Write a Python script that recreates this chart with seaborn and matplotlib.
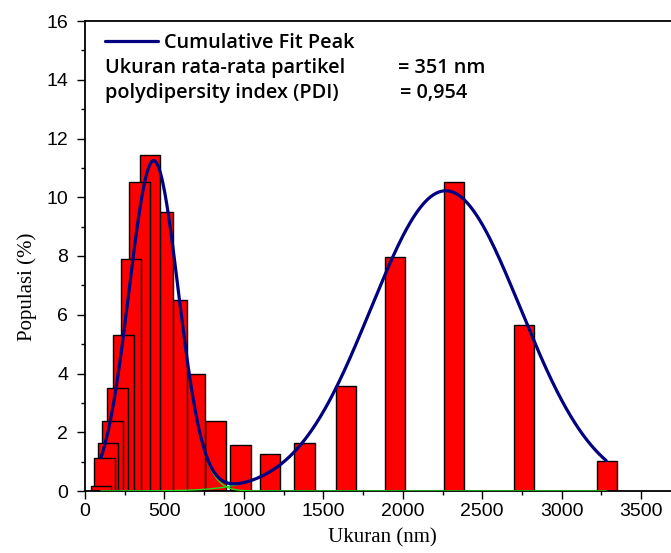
import numpy as np
import pandas as pd
import matplotlib
matplotlib.use("Agg")
import matplotlib.pyplot as plt
from matplotlib.ticker import MultipleLocator
from matplotlib.lines import Line2D
import seaborn as sns

# ---- data ----
size_nm = [100, 122, 145, 173, 205, 243, 290, 344, 410, 490, 580, 690,
           822, 978, 1163, 1382, 1642, 1951, 2324, 2762, 3286]
populasi = [0.17, 1.11, 1.62, 2.38, 3.51, 5.31, 7.90, 10.51, 11.45, 9.51, 6.49, 3.99,
            2.39, 1.55, 1.26, 1.65, 3.58, 7.98, 10.53, 5.66, 1.02]

# Gaussian fit peaks (center nm, sigma nm, height %)
peak_centers = [432, 2270]
peak_sigmas = [155, 472]
peak_heights = [11.24, 10.22]
fit_range = [100, 3280]

legend_label = "Cumulative Fit Peak"
info_labels = ["Ukuran rata-rata partikel", "polydipersity index (PDI)"]
info_values = ["= 351 nm", "= 0,954"]

sns.set_theme(style="ticks")
plt.rcParams['font.family'] = ['Liberation Sans', 'DejaVu Sans']
for k in ["text.color", "axes.labelcolor", "xtick.color", "ytick.color", "axes.edgecolor"]:
    plt.rcParams[k] = "black"

W, H = 671, 553
fig = plt.figure(figsize=(W / 100, H / 100), dpi=100)
ax_l, ax_r, ax_t, ax_b = 85, 671, 21, 491
ax = fig.add_axes([ax_l / W, 1 - ax_b / H, (ax_r - ax_l) / W, (ax_b - ax_t) / H])

# bars (drawn right-to-left so left bars sit on top)
for xv, yv in reversed(list(zip(size_nm, populasi))):
    ax.bar(xv, yv, width=128, color="#ff0000", edgecolor="black", linewidth=1.0, zorder=2)

# fit curves
xs = np.linspace(fit_range[0], fit_range[1], 800)
peaks = [h * np.exp(-(xs - c) ** 2 / (2 * s ** 2))
         for c, s, h in zip(peak_centers, peak_sigmas, peak_heights)]
for p in peaks:
    sns.lineplot(x=xs, y=p, ax=ax, color="#22dd22", linewidth=1.0, zorder=3)
cum = peaks[0] + peaks[1]
sns.lineplot(x=xs, y=cum, ax=ax, color="#000080", linewidth=2.3, zorder=4)

ax.set_xlim(0, 3688)
ax.set_ylim(0, 16)
ax.xaxis.set_major_locator(MultipleLocator(500))
ax.xaxis.set_minor_locator(MultipleLocator(250))
ax.yaxis.set_major_locator(MultipleLocator(2))
ax.yaxis.set_minor_locator(MultipleLocator(1))
ax.tick_params(axis="both", which="major", direction="out", length=6, width=1.0,
               labelsize=14, color="black", labelcolor="black")
ax.tick_params(axis="both", which="minor", direction="out", length=3, width=1.0, color="black")
ax.tick_params(axis="x", pad=3)
ax.tick_params(axis="y", pad=6)
for s in ["left", "bottom", "top"]:
    ax.spines[s].set_visible(True)
    ax.spines[s].set_color("black")
    ax.spines[s].set_linewidth(1.3)
ax.spines["right"].set_visible(False)

ax.set_xlabel("Ukuran (nm)", family=["Liberation Serif"], fontsize=15)
ax.set_ylabel("Populasi (%)", family=["Liberation Serif"], fontsize=15)
ax.xaxis.set_label_coords((382 - ax_l) / (ax_r - ax_l), (ax_b - 528) / (ax_b - ax_t))
ax.yaxis.set_label_coords((37 - ax_l) / (ax_r - ax_l), (ax_b - 287) / (ax_b - ax_t))

# legend / annotation text
fam, fsz, fwt = "Open Sans", 14.3, 600
handle = Line2D([0], [0], color="#000080", linewidth=2.3)
leg = ax.legend([handle], [legend_label], loc="center left",
                bbox_to_anchor=((105 - ax_l) / (ax_r - ax_l), (ax_b - 43) / (ax_b - ax_t)),
                frameon=False, borderpad=0, borderaxespad=0, handlelength=2.65,
                handletextpad=0.3, prop={"family": fam, "size": fsz, "weight": fwt})

for (txt, px, py) in [(info_labels[0], 105, 68), (info_values[0], 398, 68),
                      (info_labels[1], 105, 93), (info_values[1], 400, 93)]:
    fig.text(px / W, 1 - py / H, txt, va="center", ha="left",
             fontfamily=fam, fontsize=fsz, fontweight=fwt, color="black")

fig.savefig("out.png", dpi=100)
